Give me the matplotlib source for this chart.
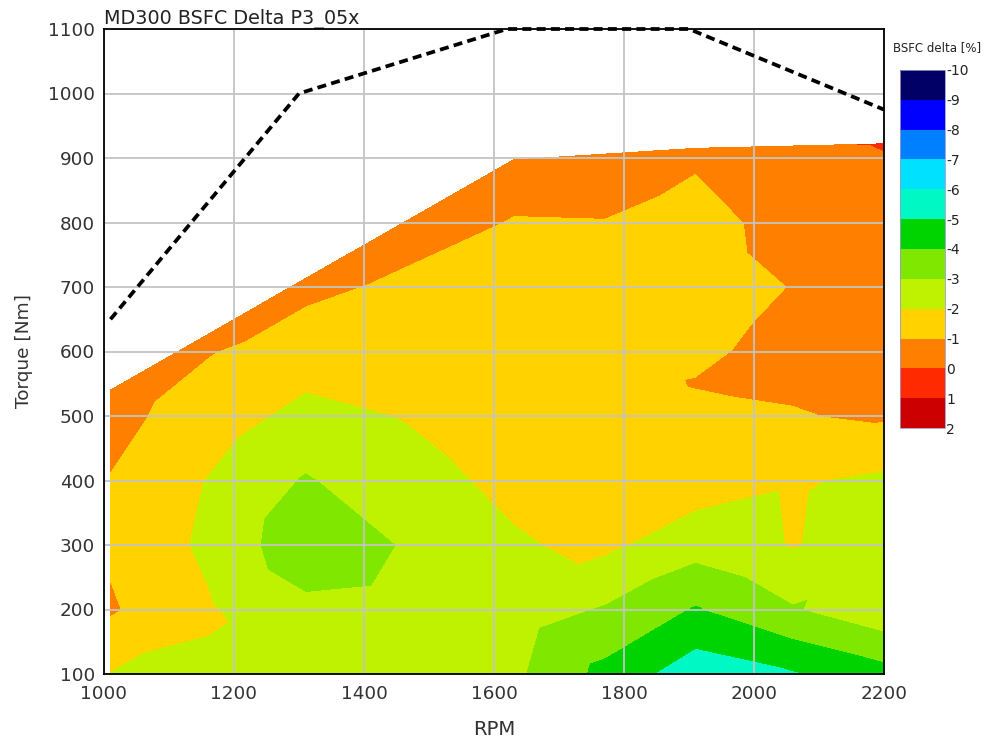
import matplotlib.pyplot as plt
import matplotlib.tri as mtri
import numpy as np

plt.rcParams['font.family'] = ['DejaVu Sans']

# measured operating points, one list per speed column
col_rpm = [1010, 1160, 1310, 1470, 1630, 1770, 1910, 2060, 2200]
col_torque = [
    [100, 200, 300, 400, 500, 540],
    [100, 200, 300, 400, 500, 600, 626],
    [100, 200, 300, 400, 500, 600, 713],
    [100, 200, 300, 400, 500, 600, 700, 805],
    [100, 200, 300, 400, 500, 600, 700, 800, 897],
    [100, 200, 300, 400, 500, 600, 700, 800, 906],
    [100, 200, 300, 400, 500, 550, 600, 700, 800, 915],
    [100, 200, 300, 400, 500, 600, 700, 800, 918],
    [100, 200, 300, 400, 500, 600, 700, 800, 900, 922],
]
col_delta = [
    [-2.05, -0.9, -1.15, -1.05, -0.7, -0.6],
    [-2.15, -1.9, -2.2, -2.05, -1.5, -0.95, -0.7],
    [-2.4, -2.75, -3.7, -3.1, -2.3, -1.5, -0.7],
    [-2.5, -2.6, -2.9, -2.3, -1.95, -1.5, -1.2, -0.6],
    [-2.8, -2.5, -2.1, -1.8, -1.5, -1.3, -1.15, -1.05, -0.6],
    [-4.3, -3.1, -1.8, -1.5, -1.35, -1.25, -1.15, -1.03, -0.55],
    [-5.6, -4.1, -2.6, -1.5, -1.2, -0.97, -1.15, -1.35, -1.3, -0.85],
    [-5.1, -3.1, -1.95, -1.9, -1.05, -0.75, -0.98, -0.7, -0.8],
    [-4.4, -2.3, -2.5, -2.2, -0.9, -0.6, -0.45, -0.3, -0.15, 0.15],
]

# full load curve
fl_rpm = [1010, 1300, 1620, 1900, 2200]
fl_torque = [650, 1000, 1100, 1100, 975]

levels = list(range(-10, 3))
colors = ['#000066', '#0000ff', '#0080ff', '#00e0ff', '#00f8c4', '#00d400',
          '#80e800', '#bff200', '#ffd200', '#ff8000', '#ff2a00', '#cc0000']

x = np.concatenate([[r] * len(t) for r, t in zip(col_rpm, col_torque)])
y = np.concatenate(col_torque)
z = np.concatenate(col_delta)
tri = mtri.Triangulation(x, y)

fig = plt.figure(figsize=(10.05, 7.44), dpi=100)
ax = fig.add_axes([104 / 1005, 70 / 744, 780 / 1005, 645 / 744])

cs = ax.tricontourf(tri, z, levels=levels, colors=colors, zorder=1)
ax.plot(fl_rpm, fl_torque, color='black', lw=2.7, linestyle=(0, (2.4, 1.4)),
        clip_on=False, zorder=4)

ax.set_xlim(1000, 2200)
ax.set_ylim(100, 1100)
ax.set_xticks(range(1000, 2201, 200))
ax.set_yticks(range(100, 1101, 100))
ax.set_axisbelow(False)
ax.grid(True, color='#c4c4c4', lw=1.3)
ax.tick_params(length=0, labelsize=13.2, labelcolor='#333333')
ax.tick_params(axis='y', pad=6.5)
ax.tick_params(axis='x', pad=8)
for s in ax.spines.values():
    s.set_linewidth(1.3)
    s.set_zorder(5)

ax.set_title('MD300 BSFC Delta P3_05x', loc='left', fontsize=13.8, pad=2,
             color='#222222')
ax.set_xlabel('RPM', fontsize=14.2, labelpad=12, color='#333333')
ax.set_ylabel('Torque [Nm]', fontsize=13.3, labelpad=11, color='#333333')

cax = fig.add_axes([900 / 1005, 316 / 744, 45 / 1005, 358 / 744])
cb = fig.colorbar(cs, cax=cax, ticks=levels)
cax.invert_yaxis()
cb.outline.set_linewidth(0.6)
cb.outline.set_edgecolor('#9999cc')
cax.tick_params(length=0, labelsize=10, pad=1, labelcolor='#222222')
cax.set_yticklabels([str(v) for v in levels])
fig.text(893 / 1005, 1 - 48 / 744, 'BSFC delta [%]', fontsize=8.5,
         va='center', color='#222222')

fig.savefig('out.png', dpi=100)
